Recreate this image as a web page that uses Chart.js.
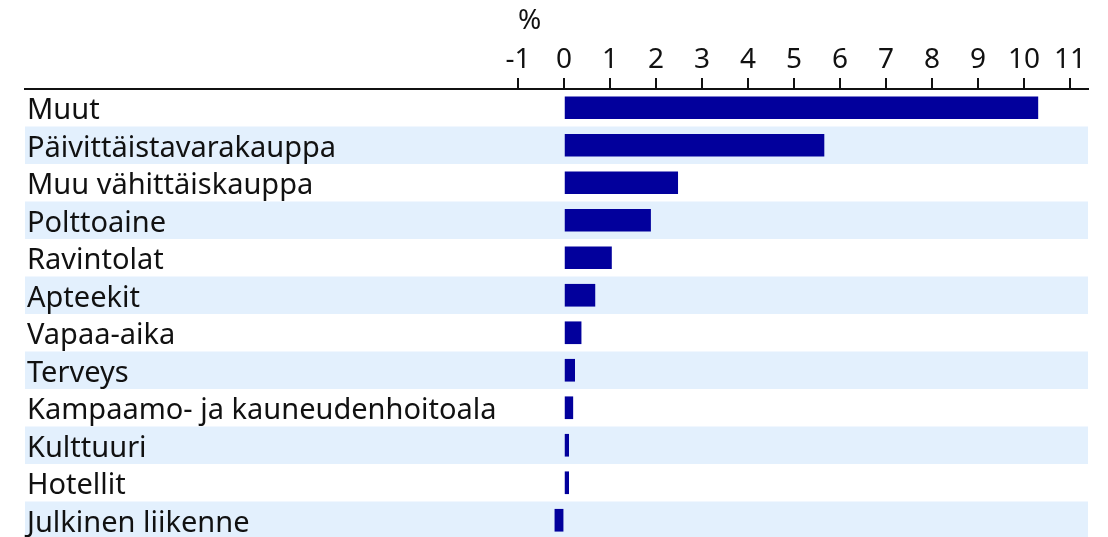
<!DOCTYPE html>
<html>
<head>
<meta charset="utf-8">
<script src="https://cdn.jsdelivr.net/npm/chart.js@4"></script>
<style>
  html, body { margin: 0; padding: 0; background: #fff; overflow: hidden; }
  #wrap { width: 1108px; height: 539px; }
</style>
</head>
<body>
<div id="wrap"><canvas id="c"></canvas></div>
<script>
const categories = [
  'Muut', 'Päivittäistavarakauppa', 'Muu vähittäiskauppa', 'Polttoaine',
  'Ravintolat', 'Apteekit', 'Vapaa-aika', 'Terveys',
  'Kampaamo- ja kauneudenhoitoala', 'Kulttuuri', 'Hotellit', 'Julkinen liikenne'
];
const values = [10.3, 5.65, 2.47, 1.88, 1.03, 0.67, 0.37, 0.23, 0.19, 0.1, 0.1, -0.2];
const tickValues = [-1, 0, 1, 2, 3, 4, 5, 6, 7, 8, 9, 10, 11];
const unitLabel = '%';

const FONT = '"Noto Sans", "Open Sans", sans-serif';
const bandColor = '#e3f0fd';

// alternating row bands + category names drawn inside the plot
const rowsPlugin = {
  id: 'rows',
  beforeDatasetsDraw(chart) {
    const { ctx, chartArea, scales } = chart;
    const y = scales.y;
    const h = y.getPixelForValue(1) - y.getPixelForValue(0);
    ctx.save();
    ctx.fillStyle = bandColor;
    categories.forEach((c, i) => {
      if (i % 2 === 1) {
        const cy = y.getPixelForValue(i);
        ctx.fillRect(chartArea.left, cy - h / 2, chartArea.right - chartArea.left, h);
      }
    });
    ctx.fillStyle = '#111';
    ctx.font = '29px ' + FONT;
    ctx.textBaseline = 'middle';
    ctx.textAlign = 'left';
    categories.forEach((c, i) => {
      ctx.fillText(c, chartArea.left + 2, y.getPixelForValue(i) + 3);
    });
    ctx.restore();
  },
  afterDraw(chart) {
    const { ctx, scales } = chart;
    ctx.save();
    ctx.fillStyle = '#111';
    ctx.font = '28px ' + FONT;
    ctx.textAlign = 'center';
    ctx.textBaseline = 'middle';
    ctx.fillText(unitLabel, scales.x.getPixelForValue(-0.75), 21);
    ctx.restore();
  }
};

new Chart(document.getElementById('c'), {
  type: 'bar',
  data: {
    labels: categories,
    datasets: [{
      data: values,
      backgroundColor: '#02009c',
      borderWidth: 0,
      barThickness: 22
    }]
  },
  options: {
    indexAxis: 'y',
    responsive: true,
    maintainAspectRatio: false,
    animation: false,
    layout: { padding: { left: 25, right: 20, top: 0, bottom: 0 } },
    plugins: { legend: { display: false }, tooltip: { enabled: false } },
    scales: {
      x: {
        position: 'top',
        min: -11.72,
        max: 11.39,
        afterBuildTicks: axis => { axis.ticks = tickValues.map(v => ({ value: v })); },
        afterFit: s => { s.height = 89; },
        grid: {
          drawOnChartArea: false,
          drawTicks: true,
          tickLength: 11,
          color: '#111',
          lineWidth: 2
        },
        border: { display: true, color: '#111', width: 2 },
        ticks: {
          color: '#111',
          font: { family: FONT, size: 28 },
          padding: 1,
          maxRotation: 0,
          autoSkip: false
        }
      },
      y: {
        display: false,
        offset: true
      }
    }
  },
  plugins: [rowsPlugin]
});
</script>
</body>
</html>
